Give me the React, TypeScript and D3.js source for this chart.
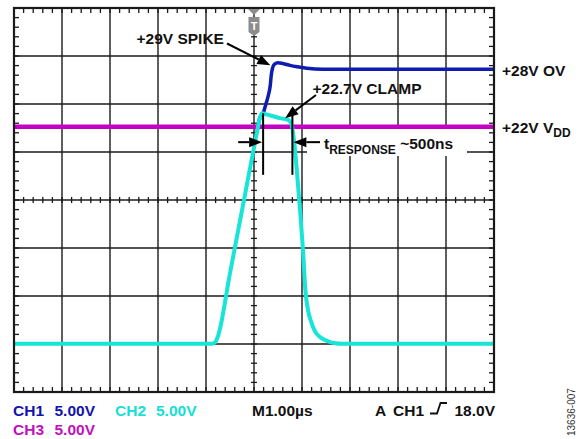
import React from 'react';
import * as d3 from 'd3';

// scope settings: 1us/div, 5V/div
const timeDomain = [-5, 5];
const voltDomain = [-5.625, 34.375];

// CH2 (cyan) - clamped output
const ch2Time = [-5, -0.875, -0.81, -0.75, -0.5, -0.25, 0, 0.06, 0.12, 0.167, 0.25, 0.4, 0.54, 0.69, 0.75, 0.79, 0.833, 0.9, 0.96, 1.02, 1.07, 1.125, 1.19, 1.27, 1.375, 1.52, 1.69, 1.83, 5];
const ch2Volts = [-0.6, -0.6, -0.45, 0.2, 6.75, 13.3, 19.85, 21.4, 22.9, 23.4, 23.3, 23.1, 22.9, 22.75, 22.55, 22.1, 20.6, 17.0, 13.3, 9.2, 5.0, 2.9, 1.7, 0.7, 0.1, -0.3, -0.55, -0.6, -0.6];

// CH1 (blue) - input overvoltage
const ch1Time = [0.06, 0.12, 0.19, 0.25, 0.3, 0.34, 0.36, 0.385, 0.427, 0.5, 0.6, 0.75, 0.9, 1.1, 1.44, 5];
const ch1Volts = [21.4, 22.9, 23.4, 24.4, 25.3, 26.35, 27.4, 28.1, 28.54, 28.68, 28.6, 28.4, 28.25, 28.1, 28.0, 28.0];

// CH3 (magenta) - VDD
const ch3Time = [-5, 5];
const ch3Volts = [22, 22];

const bottomLabels = [
  { text: 'CH1', x: 13, row: 0, color: '#1212ae' },
  { text: '5.00V', x: 54.5, row: 0, color: '#1212ae' },
  { text: 'CH2', x: 115, row: 0, color: '#14e0d6' },
  { text: '5.00V', x: 156, row: 0, color: '#14e0d6' },
  { text: 'M1.00µs', x: 252, row: 0, color: '#111' },
  { text: 'A', x: 375, row: 0, color: '#111' },
  { text: 'CH1', x: 393, row: 0, color: '#111' },
  { text: 'CH3', x: 13, row: 1, color: '#c010c0' },
  { text: '5.00V', x: 54.5, row: 1, color: '#c010c0' },
];

const W = 579;
const H = 439;
const left = 14, right = 494, top = 8, bottom = 392;
const font = 'Liberation Sans, Arial, Helvetica, sans-serif';

function Arrow({ x1, y1, x2, y2 }: { x1: number; y1: number; x2: number; y2: number }) {
  const a = Math.atan2(y2 - y1, x2 - x1);
  const len = 13, hw = 5;
  const bx = x2 - len * Math.cos(a), by = y2 - len * Math.sin(a);
  const p1 = [bx + hw * Math.sin(a), by - hw * Math.cos(a)];
  const p2 = [bx - hw * Math.sin(a), by + hw * Math.cos(a)];
  return (
    <g>
      <line x1={x1} y1={y1} x2={bx} y2={by} stroke="#000" strokeWidth={2} />
      <polygon points={`${x2},${y2} ${p1[0]},${p1[1]} ${p2[0]},${p2[1]}`} fill="#000" />
    </g>
  );
}

export default function App() {
  const x = d3.scaleLinear().domain(timeDomain).range([left, right]);
  const y = d3.scaleLinear().domain(voltDomain).range([bottom, top]);

  const mk = (ts: number[], vs: number[]) =>
    d3.line<number>()
      .x((_, i) => x(ts[i]))
      .y(v => y(v))
      .curve(d3.curveMonotoneX)(vs) || '';

  const xDivs = d3.range(timeDomain[0], timeDomain[1] + 0.001, 1);
  const yDivs = d3.range(0, 9).map(k => voltDomain[0] + 5 * k);
  const xMinor = d3.range(0, 51).map(k => timeDomain[0] + k * 0.2);
  const yMinor = d3.range(0, 41).map(k => voltDomain[0] + k * 1);

  const cx = x(0);
  const cy = y(voltDomain[0] + 20);

  // response markers
  const tStart = 0.19, tEnd = 0.8;
  const vTop = 23.4, vBot = 17.0, vArrow = 20.4;

  return (
    <div style={{ position: 'fixed', left: 0, top: 0 }}>
      <svg width={W} height={H} viewBox={`0 0 ${W} ${H}`} style={{ display: 'block', background: '#fff' }}>
        {/* grid */}
        <g stroke="#1a1a1a" strokeWidth={1.4}>
          {xDivs.map((d, i) => <line key={'gx' + i} x1={x(d)} x2={x(d)} y1={top} y2={bottom} />)}
          {yDivs.map((d, i) => <line key={'gy' + i} x1={left} x2={right} y1={y(d)} y2={y(d)} />)}
        </g>
        {/* minor ticks */}
        <g stroke="#1a1a1a" strokeWidth={1.3}>
          {xMinor.map((d, i) => (
            <g key={'mx' + i}>
              <line x1={x(d)} x2={x(d)} y1={top} y2={top + 5} />
              <line x1={x(d)} x2={x(d)} y1={bottom - 5} y2={bottom} />
              <line x1={x(d)} x2={x(d)} y1={cy - 3} y2={cy + 3} />
            </g>
          ))}
          {yMinor.map((d, i) => (
            <g key={'my' + i}>
              <line x1={left} x2={left + 5} y1={y(d)} y2={y(d)} />
              <line x1={right - 5} x2={right} y1={y(d)} y2={y(d)} />
              <line x1={cx - 3} x2={cx + 3} y1={y(d)} y2={y(d)} />
            </g>
          ))}
        </g>

        {/* white box behind response label */}
        <rect x={307} y={129} width={160} height={27} fill="#fff" />

        {/* traces */}
        <path d={mk(ch3Time, ch3Volts)} fill="none" stroke="#c400c4" strokeWidth={4.5} />
        <path d={mk(ch1Time, ch1Volts)} fill="none" stroke="#0f1cb0" strokeWidth={3.5} />
        <path d={mk(ch2Time, ch2Volts)} fill="none" stroke="#18e4d8" strokeWidth={4} />

        {/* border */}
        <rect x={left} y={top} width={right - left} height={bottom - top} fill="none" stroke="#1a1a1a" strokeWidth={2.2} />

        {/* trigger marker */}
        <g fill="#8c8c8c">
          <polygon points={`${cx - 6},${top + 1} ${cx + 6},${top + 1} ${cx},${top + 7}`} />
          <path d={`M${cx - 5.5},${top + 9} H${cx + 5.5} V${top + 24} L${cx},${top + 28} L${cx - 5.5},${top + 24} Z`} />
          <text x={cx} y={top + 22} fill="#fff" fontFamily={font} fontWeight="bold" fontSize={11} textAnchor="middle">T</text>
        </g>

        {/* response time markers */}
        <g stroke="#000" strokeWidth={2}>
          <line x1={x(tStart)} x2={x(tStart)} y1={y(vTop)} y2={y(vBot)} />
          <line x1={x(tEnd)} x2={x(tEnd)} y1={y(vTop)} y2={y(vBot)} />
        </g>
        <Arrow x1={x(-0.33)} y1={y(vArrow)} x2={x(tStart) - 1} y2={y(vArrow)} />
        <Arrow x1={x(1.375)} y1={y(vArrow)} x2={x(tEnd) + 1} y2={y(vArrow)} />

        {/* annotations */}
        <g fontFamily={font} fontWeight="bold" fontSize={15.5} fill="#111">
          <text x={136.5} y={43.5}>+29V SPIKE</text>
          <text x={312.5} y={94}>+22.7V CLAMP</text>
          <text x={502} y={y(28) + 6.5}>+28V OV</text>
          <text x={502} y={y(22) + 6.5}>+22V V<tspan fontSize={12} dy={4}>DD</tspan></text>
          <text x={324} y={149}>t<tspan fontSize={12} dy={5}>RESPONSE</tspan><tspan dy={-5}> ~500ns</tspan></text>
        </g>
        <Arrow x1={227} y1={43.5} x2={x(0.34)} y2={y(28.4)} />
        <Arrow x1={316} y1={95} x2={x(0.65)} y2={y(22.9)} />

        {/* bottom status */}
        <g fontFamily={font} fontWeight="bold" fontSize={15.5}>
          {bottomLabels.map((l, i) => (
            <text key={'bl' + i} x={l.x} y={l.row === 0 ? 415.5 : 435} fill={l.color}>{l.text}</text>
          ))}
          <path d="M430,413.5 H437 L440.5,403 H447" fill="none" stroke="#111" strokeWidth={1.8} />
          <text x={495} y={415.5} fill="#111" textAnchor="end">18.0V</text>
        </g>

        <text transform="translate(575,436) rotate(-90)" fontFamily={font} fontSize={10} fill="#333">13636-007</text>
      </svg>
    </div>
  );
}
